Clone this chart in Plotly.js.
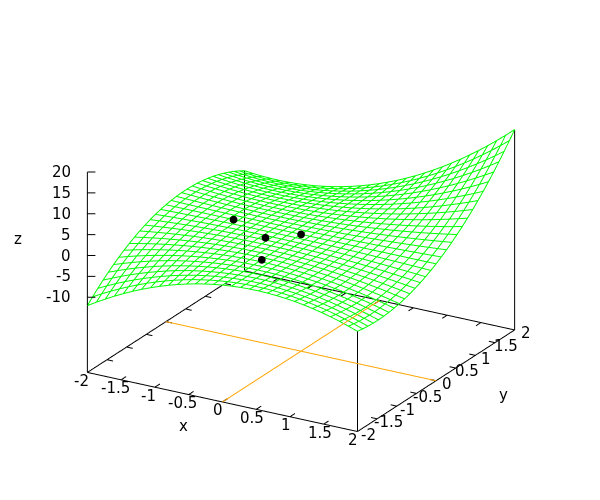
<!DOCTYPE html>
<html><head><meta charset="utf-8">
<script src="https://cdn.plot.ly/plotly-3.0.1.min.js"></script>
<style>html,body{margin:0;padding:0;background:#fff}</style></head>
<body><div id="chart" style="width:600px;height:500px"></div>
<script>
const gridValues = [-2,-1.8667,-1.7333,-1.6,-1.4667,-1.3333,-1.2,-1.0667,-0.9333,-0.8,-0.6667,-0.5333,-0.4,-0.2667,-0.1333,0,0.1333,0.2667,0.4,0.5333,0.6667,0.8,0.9333,1.0667,1.2,1.3333,1.4667,1.6,1.7333,1.8667,2];
const zRows = [
[-12,-10.7,-9.48,-8.32,-7.24,-6.22,-5.28,-4.41,-3.61,-2.88,-2.22,-1.64,-1.12,-0.68,-0.3,0,0.23,0.39,0.48,0.5,0.44,0.32,0.12,-0.14,-0.48,-0.89,-1.37,-1.92,-2.54,-3.24,-4],
[-10.7,-9.52,-8.41,-7.37,-6.39,-5.48,-4.63,-3.85,-3.14,-2.49,-1.91,-1.39,-0.95,-0.56,-0.25,0,0.18,0.3,0.35,0.33,0.25,0.1,-0.12,-0.4,-0.75,-1.16,-1.64,-2.19,-2.8,-3.48,-4.23],
[-9.48,-8.41,-7.41,-6.47,-5.59,-4.78,-4.02,-3.33,-2.7,-2.13,-1.62,-1.17,-0.79,-0.46,-0.2,0,0.14,0.22,0.23,0.18,0.08,-0.09,-0.32,-0.62,-0.97,-1.39,-1.86,-2.4,-3,-3.67,-4.39],
[-8.32,-7.37,-6.47,-5.63,-4.85,-4.12,-3.46,-2.84,-2.29,-1.79,-1.35,-0.97,-0.64,-0.37,-0.16,0,0.1,0.14,0.13,0.06,-0.07,-0.26,-0.5,-0.8,-1.15,-1.56,-2.03,-2.56,-3.14,-3.78,-4.48],
[-7.24,-6.39,-5.59,-4.85,-4.16,-3.52,-2.93,-2.4,-1.92,-1.49,-1.11,-0.78,-0.51,-0.29,-0.12,0,0.07,0.08,0.04,-0.05,-0.2,-0.39,-0.64,-0.94,-1.29,-1.69,-2.15,-2.66,-3.22,-3.83,-4.5],
[-6.22,-5.48,-4.78,-4.12,-3.52,-2.96,-2.45,-1.99,-1.58,-1.21,-0.89,-0.62,-0.39,-0.21,-0.08,0,0.04,0.02,-0.04,-0.14,-0.3,-0.5,-0.75,-1.04,-1.39,-1.78,-2.22,-2.7,-3.24,-3.82,-4.44],
[-5.28,-4.63,-4.02,-3.46,-2.93,-2.45,-2.02,-1.62,-1.27,-0.96,-0.69,-0.47,-0.29,-0.15,-0.05,0,0.01,-0.02,-0.1,-0.21,-0.37,-0.58,-0.82,-1.11,-1.44,-1.81,-2.23,-2.69,-3.19,-3.73,-4.32],
[-4.41,-3.85,-3.33,-2.84,-2.4,-1.99,-1.62,-1.29,-1,-0.74,-0.52,-0.34,-0.2,-0.09,-0.03,0,-0.01,-0.06,-0.14,-0.27,-0.43,-0.63,-0.86,-1.14,-1.45,-1.8,-2.19,-2.62,-3.08,-3.58,-4.12],
[-3.61,-3.14,-2.7,-2.29,-1.92,-1.58,-1.27,-1,-0.75,-0.55,-0.37,-0.23,-0.12,-0.05,-0.01,0,-0.02,-0.08,-0.17,-0.3,-0.46,-0.65,-0.87,-1.13,-1.42,-1.74,-2.1,-2.49,-2.91,-3.37,-3.86],
[-2.88,-2.49,-2.13,-1.79,-1.49,-1.21,-0.96,-0.74,-0.55,-0.38,-0.25,-0.14,-0.06,-0.01,0.01,0,-0.04,-0.1,-0.19,-0.31,-0.46,-0.64,-0.85,-1.08,-1.34,-1.64,-1.96,-2.3,-2.68,-3.09,-3.52],
[-2.22,-1.91,-1.62,-1.35,-1.11,-0.89,-0.69,-0.52,-0.37,-0.25,-0.15,-0.07,-0.02,0.01,0.02,0,-0.04,-0.11,-0.2,-0.31,-0.44,-0.6,-0.79,-1,-1.23,-1.48,-1.76,-2.06,-2.39,-2.74,-3.11],
[-1.64,-1.39,-1.17,-0.97,-0.78,-0.62,-0.47,-0.34,-0.23,-0.14,-0.07,-0.02,0.01,0.03,0.02,0,-0.04,-0.1,-0.18,-0.28,-0.4,-0.54,-0.7,-0.87,-1.07,-1.28,-1.51,-1.76,-2.03,-2.32,-2.63],
[-1.12,-0.95,-0.79,-0.64,-0.51,-0.39,-0.29,-0.2,-0.12,-0.06,-0.02,0.01,0.03,0.04,0.02,0,-0.04,-0.09,-0.16,-0.24,-0.34,-0.45,-0.57,-0.71,-0.86,-1.03,-1.21,-1.41,-1.62,-1.84,-2.08],
[-0.68,-0.56,-0.46,-0.37,-0.29,-0.21,-0.15,-0.09,-0.05,-0.01,0.01,0.03,0.04,0.03,0.02,0,-0.03,-0.07,-0.12,-0.18,-0.25,-0.33,-0.41,-0.51,-0.62,-0.73,-0.86,-1,-1.14,-1.29,-1.46],
[-0.3,-0.25,-0.2,-0.16,-0.12,-0.08,-0.05,-0.03,-0.01,0.01,0.02,0.02,0.02,0.02,0.01,0,-0.02,-0.04,-0.07,-0.1,-0.14,-0.18,-0.22,-0.27,-0.33,-0.39,-0.46,-0.53,-0.6,-0.68,-0.76],
[0,0,0,0,0,0,0,0,0,0,0,0,0,0,0,0,0,0,0,0,0,0,0,0,0,0,0,0,0,0,0],
[0.23,0.18,0.14,0.1,0.07,0.04,0.01,-0.01,-0.02,-0.04,-0.04,-0.04,-0.04,-0.03,-0.02,0,0.02,0.05,0.08,0.12,0.16,0.21,0.26,0.31,0.37,0.44,0.51,0.58,0.66,0.75,0.84],
[0.39,0.3,0.22,0.14,0.08,0.02,-0.02,-0.06,-0.08,-0.1,-0.11,-0.1,-0.09,-0.07,-0.04,0,0.05,0.11,0.18,0.26,0.34,0.44,0.55,0.66,0.79,0.92,1.07,1.22,1.39,1.56,1.74],
[0.48,0.35,0.23,0.13,0.04,-0.04,-0.1,-0.14,-0.17,-0.19,-0.2,-0.18,-0.16,-0.12,-0.07,0,0.08,0.18,0.29,0.41,0.55,0.7,0.87,1.05,1.25,1.46,1.68,1.92,2.17,2.44,2.72],
[0.5,0.33,0.18,0.06,-0.05,-0.14,-0.21,-0.27,-0.3,-0.31,-0.31,-0.28,-0.24,-0.18,-0.1,0,0.12,0.26,0.41,0.59,0.78,1,1.23,1.48,1.75,2.04,2.35,2.67,3.02,3.39,3.77],
[0.44,0.25,0.08,-0.07,-0.2,-0.3,-0.37,-0.43,-0.46,-0.46,-0.44,-0.4,-0.34,-0.25,-0.14,0,0.16,0.34,0.55,0.78,1.04,1.32,1.62,1.94,2.29,2.67,3.06,3.48,3.93,4.4,4.89],
[0.32,0.1,-0.09,-0.26,-0.39,-0.5,-0.58,-0.63,-0.65,-0.64,-0.6,-0.54,-0.45,-0.33,-0.18,0,0.21,0.44,0.7,1,1.32,1.66,2.04,2.45,2.88,3.34,3.83,4.35,4.9,5.48,6.08],
[0.12,-0.12,-0.32,-0.5,-0.64,-0.75,-0.82,-0.86,-0.87,-0.85,-0.79,-0.7,-0.57,-0.41,-0.22,0,0.26,0.55,0.87,1.23,1.62,2.04,2.5,2.99,3.51,4.07,4.65,5.28,5.93,6.62,7.34],
[-0.14,-0.4,-0.62,-0.8,-0.94,-1.04,-1.11,-1.14,-1.13,-1.08,-1,-0.87,-0.71,-0.51,-0.27,0,0.31,0.66,1.05,1.48,1.94,2.45,2.99,3.56,4.18,4.84,5.53,6.26,7.03,7.83,8.68],
[-0.48,-0.75,-0.97,-1.15,-1.29,-1.39,-1.44,-1.45,-1.42,-1.34,-1.23,-1.07,-0.86,-0.62,-0.33,0,0.37,0.79,1.25,1.75,2.29,2.88,3.51,4.18,4.9,5.65,6.45,7.3,8.18,9.11,10.08],
[-0.89,-1.16,-1.39,-1.56,-1.69,-1.78,-1.81,-1.8,-1.74,-1.64,-1.48,-1.28,-1.03,-0.73,-0.39,0,0.44,0.92,1.46,2.04,2.67,3.34,4.07,4.84,5.65,6.52,7.43,8.39,9.4,10.45,11.56],
[-1.37,-1.64,-1.86,-2.03,-2.15,-2.22,-2.23,-2.19,-2.1,-1.96,-1.76,-1.51,-1.21,-0.86,-0.46,0,0.51,1.07,1.68,2.35,3.06,3.83,4.65,5.53,6.45,7.43,8.46,9.54,10.68,11.86,13.1],
[-1.92,-2.19,-2.4,-2.56,-2.66,-2.7,-2.69,-2.62,-2.49,-2.3,-2.06,-1.76,-1.41,-1,-0.53,0,0.58,1.22,1.92,2.67,3.48,4.35,5.28,6.26,7.3,8.39,9.54,10.75,12.02,13.34,14.72],
[-2.54,-2.8,-3,-3.14,-3.22,-3.24,-3.19,-3.08,-2.91,-2.68,-2.39,-2.03,-1.62,-1.14,-0.6,0,0.66,1.39,2.17,3.02,3.93,4.9,5.93,7.03,8.18,9.4,10.68,12.02,13.42,14.88,16.41],
[-3.24,-3.48,-3.67,-3.78,-3.83,-3.82,-3.73,-3.58,-3.37,-3.09,-2.74,-2.32,-1.84,-1.29,-0.68,0,0.75,1.56,2.44,3.39,4.4,5.48,6.62,7.83,9.11,10.45,11.86,13.34,14.88,16.49,18.17],
[-4,-4.23,-4.39,-4.48,-4.5,-4.44,-4.32,-4.12,-3.86,-3.52,-3.11,-2.63,-2.08,-1.46,-0.76,0,0.84,1.74,2.72,3.77,4.89,6.08,7.34,8.68,10.08,11.56,13.1,14.72,16.41,18.17,20]
];
const pointX = [-1, 0, 0, -0.3333];
const pointY = [0, -1, 0, -0.3333];
const pointZ = [0, 0, 0, 0.037];
const xTicks = [-2,-1.5,-1,-0.5,0,0.5,1,1.5,2];
const yTicks = [-2,-1.5,-1,-0.5,0,0.5,1,1.5,2];
const zTicks = [-10,-5,0,5,10,15,20];
const xBox = [-2,2], yBox = [-2,2], zBox = [-28,20];
const xRange = [-2.02,2.02], yRange = [-2.02,2.02], zRange = [-28.24,20.24];
const surfaceCornerZ = {leftBack: zRows[30][0], rightBack: zRows[30][30], rightFront: zRows[0][30], leftFront: zRows[0][0]};

const wx=[],wy=[],wz=[];
gridValues.forEach((yv,i)=>{ gridValues.forEach((xv,j)=>{wx.push(xv);wy.push(yv);wz.push(zRows[i][j]);}); wx.push(null);wy.push(null);wz.push(null); });
gridValues.forEach((xv,j)=>{ gridValues.forEach((yv,i)=>{wx.push(xv);wy.push(yv);wz.push(zRows[i][j]);}); wx.push(null);wy.push(null);wz.push(null); });

const bx=[],by=[],bz=[];
function seg(x0,y0,z0,x1,y1,z1){bx.push(x0,x1,null);by.push(y0,y1,null);bz.push(z0,z1,null);}
const [x0,x1]=xBox,[y0,y1]=yBox,[zb,zt]=zBox;
seg(x0,y0,zb,x1,y0,zb);seg(x1,y0,zb,x1,y1,zb);seg(x1,y1,zb,x0,y1,zb);seg(x0,y1,zb,x0,y0,zb);
seg(x0,y0,zb,x0,y0,zt);
seg(x0,y1,zb,x0,y1,surfaceCornerZ.leftBack);
seg(x1,y1,zb,x1,y1,surfaceCornerZ.rightBack);
seg(x1,y0,zb,x1,y0,surfaceCornerZ.rightFront);
xTicks.slice(1,-1).forEach(t=>{seg(t,y0,zb,t,y0+0.125,zb);seg(t,y1,zb,t,y1-0.125,zb);});
yTicks.slice(1,-1).forEach(t=>{seg(x0,t,zb,x0+0.09,t,zb);seg(x1,t,zb,x1-0.09,t,zb);});
zTicks.forEach(t=>{seg(x0,y0,t,x0+0.0886,y0+0.0518,t);});

const traces=[
 {type:'scatter3d',scene:'scene',mode:'lines',x:bx,y:by,z:bz,line:{color:'#000000',width:2},hoverinfo:'skip',showlegend:false},
 {type:'scatter3d',scene:'scene',mode:'lines',x:wx,y:wy,z:wz,line:{color:'#00ff00',width:2},connectgaps:false,hoverinfo:'skip',showlegend:false},
 {type:'scatter3d',scene:'scene2',mode:'lines',x:[0,0,null,x0,x1],y:[y0,y1,null,0,0],z:[zb,zb,null,zb,zb],line:{color:'#ffa500',width:2},hoverinfo:'skip',showlegend:false},
 {type:'scatter3d',scene:'scene2',mode:'markers',x:pointX,y:pointY,z:pointZ,marker:{color:'#000000',size:4.5,line:{width:0}},hoverinfo:'skip',showlegend:false}
];
const font={family:'"DejaVu Sans",sans-serif',size:15,color:'#000'};
const sceneAnn=[];
function lab(x,y,z,text,xa,dx,dy){sceneAnn.push({x,y,z,text:String(text),showarrow:false,xanchor:xa,yanchor:'middle',xshift:dx,yshift:dy,font});}
xTicks.forEach(t=>lab(t,y0,zb,t,'center',t<0?-6:-4,-8.5));
yTicks.forEach(t=>lab(x1,t,zb,t,'center',11,-3.4));
zTicks.forEach(t=>lab(x0,y0,t,t,'right',-14,0));
const axNoShow={visible:false,showgrid:false,zeroline:false,showspikes:false,showbackground:false};
const camera={projection:{type:'orthographic'},up:{x:0,y:0,z:1},center:{x:0,y:0,z:0},eye:{x:0.7456,y:-1.2816,z:0.6016}};
function sceneCfg(extra){return Object.assign({domain:{x:[0,1],y:[0,1]},bgcolor:'rgba(0,0,0,0)',aspectmode:'manual',aspectratio:{x:1.2676,y:1.2676,z:0.8771},
  xaxis:Object.assign({range:xRange},axNoShow),yaxis:Object.assign({range:yRange},axNoShow),zaxis:Object.assign({range:zRange},axNoShow),camera},extra);}
function title(px,py,text){return {xref:'paper',yref:'paper',x:(px-2)/598,y:1-(py-2)/498,xanchor:'center',yanchor:'middle',text,showarrow:false,font};}
const layout={width:600,height:500,margin:{l:2,r:0,t:2,b:0},paper_bgcolor:'#fff',showlegend:false,
 annotations:[title(183,426,'x'),title(503,395,'y'),title(18,239,'z')],
 scene:sceneCfg({annotations:sceneAnn}),
 scene2:sceneCfg({})
};
Plotly.newPlot('chart',traces,layout,{displayModeBar:false});
</script></body></html>
